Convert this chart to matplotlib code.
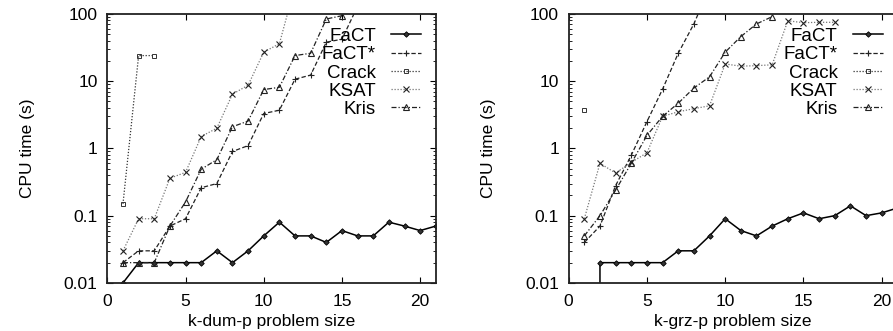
import numpy as np
import matplotlib
matplotlib.use("Agg")
import matplotlib.pyplot as plt
from matplotlib.ticker import LogLocator, FixedLocator, FuncFormatter

plt.rcParams['font.family'] = ['Liberation Sans', 'DejaVu Sans']

# ---------------- data: k-dum-p ----------------
dum_fact_x = list(range(1, 22))
dum_fact_y = [0.01, 0.02, 0.02, 0.02, 0.02, 0.02, 0.03, 0.02, 0.03, 0.05, 0.08,
              0.05, 0.05, 0.04, 0.06, 0.05, 0.05, 0.08, 0.07, 0.06, 0.07]
dum_factstar_x = list(range(1, 17))
dum_factstar_y = [0.02, 0.03, 0.03, 0.07, 0.09, 0.26, 0.3, 0.9, 1.1, 3.3, 3.7,
                  10.7, 12.3, 38, 42, 130]
dum_crack_x = [1, 2, 3]
dum_crack_y = [0.15, 24, 24]
dum_ksat_x = list(range(1, 13))
dum_ksat_y = [0.03, 0.09, 0.09, 0.36, 0.44, 1.5, 2.0, 6.4, 8.7, 27, 36, 260]
dum_kris_x = list(range(1, 16))
dum_kris_y = [0.02, 0.02, 0.02, 0.07, 0.16, 0.49, 0.68, 2.1, 2.55, 7.5, 8.1,
              24, 26, 84, 94]

# ---------------- data: k-grz-p ----------------
grz_fact_x = list(range(1, 22))
grz_fact_y = [0.0, 0.02, 0.02, 0.02, 0.02, 0.02, 0.03, 0.03, 0.05, 0.09, 0.06,
              0.05, 0.07, 0.09, 0.11, 0.09, 0.1, 0.14, 0.1, 0.11, 0.13]
grz_factstar_x = list(range(1, 10))
grz_factstar_y = [0.04, 0.07, 0.28, 0.79, 2.5, 7.6, 26, 71, 250]
grz_crack_x = [1]
grz_crack_y = [3.7]
grz_ksat_x = list(range(1, 18))
grz_ksat_y = [0.09, 0.6, 0.43, 0.62, 0.86, 3.0, 3.5, 3.9, 4.3, 18, 16.7, 17,
              17.5, 79, 74, 75, 75]
grz_kris_x = list(range(1, 14))
grz_kris_y = [0.05, 0.1, 0.24, 0.6, 1.56, 3.0, 4.7, 7.9, 11.6, 27, 46, 71, 91]

labels = ["FaCT", "FaCT*", "Crack", "KSAT", "Kris"]
x_ticks = [0, 5, 10, 15, 20]
y_ticks = [0.01, 0.1, 1, 10, 100]
y_ticklabels = ["0.01", "0.1", "1", "10", "100"]

styles = [
    dict(color="#000000", lw=1.1, ls="-", marker="D", ms=2.8, mfc="#333333", mec="#000000", mew=0.6),
    dict(color="#222222", lw=0.9, ls=(0, (3.5, 1.8)), marker="+", ms=4.5, mec="#222222", mew=0.8),
    dict(color="#333333", lw=0.9, ls=(0, (1.0, 1.4)), marker="s", ms=3.5, mfc="none", mec="#333333", mew=0.7),
    dict(color="#777777", lw=0.9, ls=(0, (1.0, 1.4)), marker="x", ms=3.8, mec="#222222", mew=0.8),
    dict(color="#222222", lw=0.9, ls=(0, (4.0, 1.6, 1.0, 1.6)), marker="^", ms=4.0, mfc="none", mec="#222222", mew=0.8),
]

fig = plt.figure(figsize=(8.93, 3.31), dpi=100)
axL = fig.add_axes([0.1202, 0.1453, 0.3678, 0.8127])
axR = fig.add_axes([0.6368, 0.1453, 0.3681, 0.8127])

def draw(ax, series, xlabel, show_right):
    ax.set_yscale('log', nonpositive='clip')
    for (xs, ys), lab, st in zip(series, labels, styles):
        ax.plot(xs, ys, label=lab, clip_on=True, **st)
    ax.set_xlim(0, 21)
    ax.set_ylim(0.01, 100)
    ax.xaxis.set_major_locator(FixedLocator(x_ticks))
    ax.set_xticklabels([str(t) for t in x_ticks])
    ax.yaxis.set_major_locator(FixedLocator(y_ticks))
    ax.yaxis.set_minor_locator(LogLocator(base=10, subs=np.arange(2, 10)))
    ax.set_yticklabels(y_ticklabels)
    ax.yaxis.set_minor_formatter(FuncFormatter(lambda v, p: ""))
    ax.tick_params(which='major', direction='in', length=4.5, width=0.8,
                   top=True, right=show_right, labelsize=12.5, colors="#000000")
    ax.tick_params(axis='x', which='major', pad=8)
    ax.tick_params(axis='y', which='major', pad=7)
    ax.tick_params(which='minor', direction='in', length=2.2, width=0.6,
                   left=True, right=show_right)
    for s in ax.spines.values():
        s.set_linewidth(1.3)
        s.set_color("#222222")
    ax.set_xlabel(xlabel, fontsize=12.5, labelpad=3.5)
    ax.set_ylabel("CPU time (s)", fontsize=12.5, labelpad=21)
    ax.legend(loc='upper right', bbox_to_anchor=(0.955, 0.948),
              frameon=False, markerfirst=False, fontsize=13.5,
              labelspacing=0.06, handlelength=1.6, handletextpad=0.8,
              borderaxespad=0, borderpad=0)

draw(axL, [(dum_fact_x, dum_fact_y), (dum_factstar_x, dum_factstar_y),
           (dum_crack_x, dum_crack_y), (dum_ksat_x, dum_ksat_y),
           (dum_kris_x, dum_kris_y)], "k-dum-p problem size", True)
draw(axR, [(grz_fact_x, grz_fact_y), (grz_factstar_x, grz_factstar_y),
           (grz_crack_x, grz_crack_y), (grz_ksat_x, grz_ksat_y),
           (grz_kris_x, grz_kris_y)], "k-grz-p problem size", False)

fig.savefig("out.png", dpi=100)
